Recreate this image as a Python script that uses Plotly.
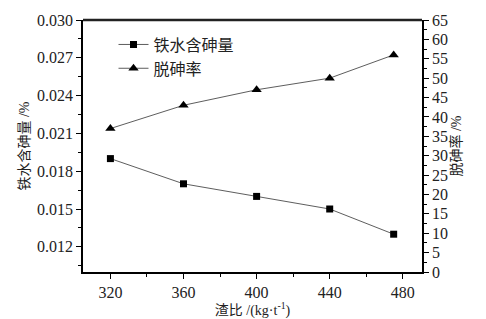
import plotly.graph_objects as go

slag_ratio = [320, 360, 400, 440, 475]
arsenic_content = [0.019, 0.017, 0.016, 0.015, 0.013]
removal_rate = [37, 43, 47, 50, 56]

x_ticks = [320, 360, 400, 440, 480]
left_ticks = [0.012, 0.015, 0.018, 0.021, 0.024, 0.027, 0.030]
right_ticks = list(range(0, 70, 5))

FONT = "Liberation Serif, Times New Roman, Noto Sans CJK SC"

fig = go.Figure()
fig.add_trace(go.Scatter(
    x=slag_ratio, y=arsenic_content, name="铁水含砷量",
    mode="lines+markers",
    line=dict(color="#333333", width=0.8),
    marker=dict(symbol="square", size=7, color="black"),
    yaxis="y"))
fig.add_trace(go.Scatter(
    x=slag_ratio, y=removal_rate, name="脱砷率",
    mode="lines+markers",
    line=dict(color="#333333", width=0.8),
    marker=dict(symbol="triangle-up", size=9, color="black"),
    yaxis="y2"))

axis_common = dict(showgrid=False, zeroline=False, showline=True, linecolor="black",
                   linewidth=1.5, ticks="outside", tickcolor="black", ticklen=5,
                   tickwidth=1.2, automargin=False,
                   tickfont=dict(family=FONT, size=16, color="#222"))

fig.update_layout(
    width=486, height=319,
    margin=dict(l=83, r=64, t=20, b=47),
    paper_bgcolor="white", plot_bgcolor="white",
    font=dict(family=FONT, color="#222"),
    xaxis=dict(range=[305, 490.5], tickvals=x_ticks,
               ticktext=[str(v) for v in x_ticks],
               minor=dict(ticks="outside", ticklen=3, dtick=20, tick0=300, tickcolor="black"),
               title=dict(text="渣比 /(kg·t<sup>-1</sup>)", font=dict(family=FONT, size=14), standoff=8),
               **axis_common),
    yaxis=dict(range=[0.010, 0.030], tickvals=left_ticks,
               ticktext=[f"{v:.3f}" for v in left_ticks],
               minor=dict(ticks="outside", ticklen=3, dtick=0.0015, tick0=0.0105, tickcolor="black"),
               title=dict(text="铁水含砷量 /%", font=dict(family=FONT, size=14), standoff=4),
               **axis_common),
    yaxis2=dict(range=[0, 65], overlaying="y", side="right", tickvals=right_ticks,
                ticktext=[str(v) for v in right_ticks],
                minor=dict(ticks="outside", ticklen=3, dtick=2.5, tick0=0, tickcolor="black"),
                title=dict(text="脱砷率 /%", font=dict(family=FONT, size=14), standoff=4),
                **axis_common),
    legend=dict(x=0.09, y=0.97, xanchor="left", yanchor="top",
                bgcolor="rgba(0,0,0,0)", font=dict(family=FONT, size=16),
                itemwidth=30, tracegroupgap=4),
    showlegend=True,
    shapes=[dict(type="line", xref="paper", yref="paper", x0=0, x1=1, y0=1, y1=1,
                 line=dict(color="#222", width=2.5))],
)

fig.write_html("out.html", config={"displayModeBar": False},
               post_script="document.body.style.margin='0';document.body.style.padding='0';")
